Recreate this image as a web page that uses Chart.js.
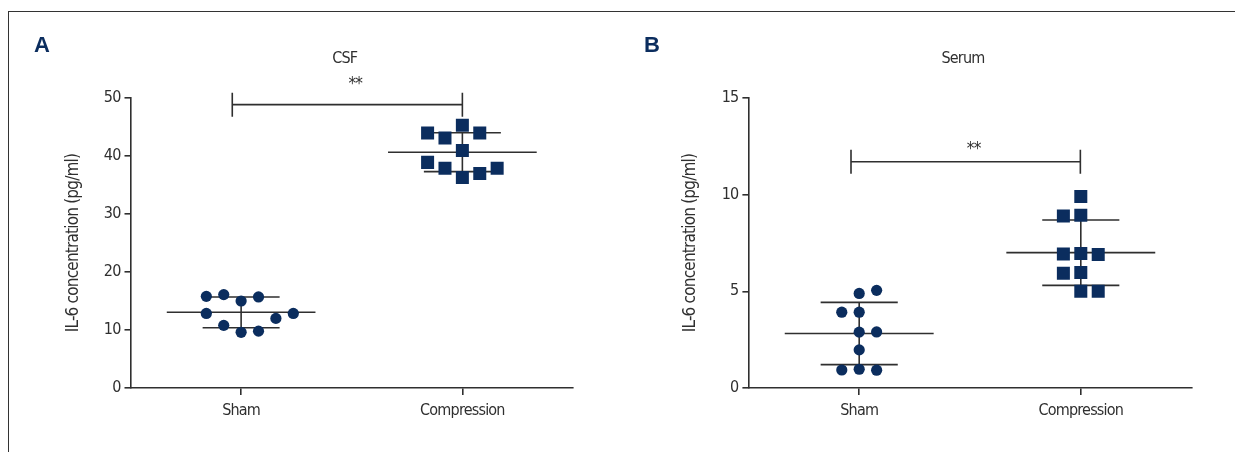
<!DOCTYPE html>
<html>
<head>
<meta charset="utf-8">
<script src="https://cdn.jsdelivr.net/npm/chart.js@4.4.1/dist/chart.umd.min.js"></script>
<style>
  body { margin: 0; background: #fff; width: 1235px; height: 452px; overflow: hidden; position: relative; }
  #frame { position: absolute; left: 8px; top: 11px; width: 1240px; height: 460px;
           border-top: 1px solid #333; border-left: 1px solid #333; }
  .panel { position: absolute; top: 0; height: 452px; }
  #wrapA { left: 0; width: 617px; }
  #wrapB { left: 617px; width: 618px; }
</style>
</head>
<body>
<div id="frame"></div>
<div class="panel" id="wrapA"><canvas id="chartA"></canvas></div>
<div class="panel" id="wrapB"><canvas id="chartB"></canvas></div>
<script>
// groups on the x axis
const groups = ["Sham", "Compression"];

// CSF values (pg/ml) and the column each dot sits in
const csfSham = [15.8, 16.1, 15.0, 15.7, 12.85, 12.85, 12.0, 10.8, 9.6, 9.8];
const csfShamCol = [-2, -1, 0, 1, -2, 3, 2, -1, 0, 1];
const csfComp = [43.95, 43.1, 45.3, 43.95, 40.96, 38.9, 37.9, 36.3, 37.0, 37.9];
const csfCompCol = [-2, -1, 0, 1, 0, -2, -1, 0, 1, 2];
const csfMean = [13.05, 40.65];
const csfSD = [2.65, 3.35];
const csfTicks = [0, 10, 20, 30, 40, 50];

// serum values (pg/ml)
const serumSham = [4.89, 5.05, 3.92, 3.92, 2.89, 2.90, 1.97, 0.93, 0.97, 0.92];
const serumShamCol = [0, 1, -1, 0, 0, 1, 0, -1, 0, 1];
const serumComp = [9.90, 8.90, 8.93, 6.93, 6.96, 6.91, 5.93, 5.98, 5.01, 5.01];
const serumCompCol = [0, -1, 0, -1, 0, 1, -1, 0, 0, 1];
const serumMean = [2.82, 7.0];
const serumSD = [1.61, 1.69];
const serumTicks = [0, 5, 10, 15];

const NAVY = "#0b2d5e";
const INK = "#2f2f2f";
const FONT = "'DejaVu Sans Condensed', 'Liberation Sans Narrow', sans-serif";
const COL_STEP = 0.0786;   // spacing of dot columns, in group units
const MEAN_HALF = 0.336;
const SD_HALF = 0.174;

function toPoints(vals, cols, g) {
  return vals.map((v, i) => ({ x: g + cols[i] * COL_STEP, y: v }));
}

// mean / SD lines under the dots, significance bracket and labels on top
const decorPlugin = {
  id: "decor",
  beforeDraw(chart) {
    chart.ctx.letterSpacing = "-0.8px";  // squeeze text, like the condensed original
  },
  beforeDatasetsDraw(chart, args, o) {
    const ctx = chart.ctx, x = chart.scales.x, y = chart.scales.y;
    ctx.save();
    ctx.strokeStyle = INK;
    ctx.lineWidth = 1.6;
    o.mean.forEach((m, i) => {
      const g = i + 1, s = o.sd[i];
      const cx = x.getPixelForValue(g);
      ctx.beginPath();
      ctx.moveTo(x.getPixelForValue(g - MEAN_HALF), y.getPixelForValue(m));
      ctx.lineTo(x.getPixelForValue(g + MEAN_HALF), y.getPixelForValue(m));
      [m + s, m - s].forEach(v => {
        ctx.moveTo(x.getPixelForValue(g - SD_HALF), y.getPixelForValue(v));
        ctx.lineTo(x.getPixelForValue(g + SD_HALF), y.getPixelForValue(v));
      });
      ctx.moveTo(cx, y.getPixelForValue(m + s));
      ctx.lineTo(cx, y.getPixelForValue(m - s));
      ctx.stroke();
    });
    ctx.restore();
  },
  afterDraw(chart, args, o) {
    const ctx = chart.ctx, x = chart.scales.x, y = chart.scales.y;
    ctx.save();
    // bracket
    const x1 = x.getPixelForValue(o.bracketFrom), x2 = x.getPixelForValue(o.bracketTo);
    const by = y.getPixelForValue(o.bracketAt);
    ctx.strokeStyle = INK;
    ctx.lineWidth = 1.6;
    ctx.beginPath();
    ctx.moveTo(x1, by); ctx.lineTo(x2, by);
    ctx.moveTo(x1, by - 12); ctx.lineTo(x1, by + 12);
    ctx.moveTo(x2, by - 12); ctx.lineTo(x2, by + 12);
    ctx.stroke();
    ctx.fillStyle = INK;
    ctx.textAlign = "center";
    ctx.textBaseline = "middle";
    ctx.font = "17px " + FONT;
    ctx.fillText("**", (x1 + x2) / 2 + 8, y.getPixelForValue(o.starsAt) + 3);
    // panel title
    const mid = (chart.chartArea.left + chart.chartArea.right) / 2 - 7;
    ctx.font = "16px " + FONT;
    ctx.fillText(o.title, mid, 59);
    // panel letter
    ctx.letterSpacing = "0px";
    ctx.fillStyle = NAVY;
    ctx.textAlign = "left";
    ctx.font = "bold 22px 'Liberation Sans', Arial, sans-serif";
    ctx.fillText(o.letter, o.letterX, 46);
    ctx.restore();
  }
};

function makeChart(id, sham, shamCol, comp, compCol, ticks, decor, padLeft, padRight) {
  const yMax = ticks[ticks.length - 1];
  return new Chart(document.getElementById(id), {
    type: "scatter",
    data: {
      datasets: [
        { label: groups[0], data: toPoints(sham, shamCol, 1),
          pointStyle: "circle", pointRadius: 5.6, pointHoverRadius: 5.6,
          backgroundColor: NAVY, borderColor: NAVY, borderWidth: 0 },
        { label: groups[1], data: toPoints(comp, compCol, 2),
          pointStyle: "rect", pointRadius: 9.2, pointHoverRadius: 9.2,
          backgroundColor: NAVY, borderColor: NAVY, borderWidth: 0 }
      ]
    },
    options: {
      responsive: true,
      maintainAspectRatio: false,
      animation: false,
      layout: { padding: { left: 0, top: 98, right: padRight, bottom: 0 } },
      plugins: {
        legend: { display: false },
        tooltip: { enabled: false },
        decor: decor
      },
      scales: {
        x: {
          type: "linear",
          min: 0.5, max: 2.5,
          afterBuildTicks: s => { s.ticks = groups.map((g, i) => ({ value: i + 1 })); },
          afterFit: s => { s.height = 64; },
          ticks: {
            callback: v => groups[v - 1],
            color: INK, font: { family: FONT, size: 16 }, padding: 6, maxRotation: 0
          },
          grid: { drawOnChartArea: false, drawTicks: true, tickLength: 7, color: INK, lineWidth: 1.6 },
          border: { color: INK, width: 1.6 }
        },
        y: {
          min: 0, max: yMax,
          afterBuildTicks: s => { s.ticks = ticks.map(v => ({ value: v })); },
          afterFit: s => { s.width = padLeft; },
          ticks: { color: INK, font: { family: FONT, size: 16 }, padding: 4 },
          title: {
            display: true, text: "IL-6 concentration (pg/ml)",
            color: INK, font: { family: FONT, size: 17 }, padding: { top: 63, bottom: 0 }
          },
          grid: { drawOnChartArea: false, drawTicks: true, tickLength: 6, color: INK, lineWidth: 1.6 },
          border: { color: INK, width: 1.6 }
        }
      }
    },
    plugins: [decorPlugin]
  });
}

makeChart("chartA", csfSham, csfShamCol, csfComp, csfCompCol, csfTicks,
  { mean: csfMean, sd: csfSD, bracketFrom: 0.96, bracketTo: 2.0, bracketAt: 48.85,
    starsAt: 52.8, title: "CSF", letter: "A", letterX: 34 }, 130.5, 44);

makeChart("chartB", serumSham, serumShamCol, serumComp, serumCompCol, serumTicks,
  { mean: serumMean, sd: serumSD, bracketFrom: 0.963, bracketTo: 1.998, bracketAt: 11.7,
    starsAt: 12.48, title: "Serum", letter: "B", letterX: 27 }, 131.4, 43.4);
</script>
</body>
</html>
